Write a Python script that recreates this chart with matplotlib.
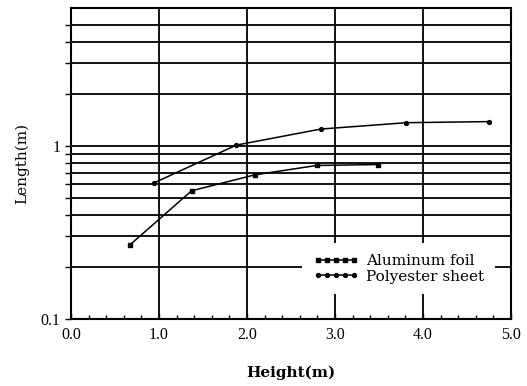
import matplotlib
matplotlib.use("Agg")
import matplotlib.pyplot as plt
from matplotlib.ticker import FixedLocator, NullFormatter, MultipleLocator

plt.rcParams['font.family'] = ['Liberation Serif', 'DejaVu Serif']

al_x = [0.67, 1.37, 2.09, 2.79, 3.49]
al_y = [0.268, 0.55, 0.68, 0.77, 0.78]
po_x = [0.94, 1.88, 2.84, 3.81, 4.75]
po_y = [0.61, 1.01, 1.25, 1.36, 1.38]

x_ticks = [0.0, 1.0, 2.0, 3.0, 4.0, 5.0]
x_labels = ["0.0", "1.0", "2.0", "3.0", "4.0", "5.0"]
y_grid = [0.2, 0.3, 0.4, 0.5, 0.6, 0.7, 0.8, 0.9, 1, 2, 3, 4, 5]

fig = plt.figure(figsize=(5.27, 3.86), dpi=100)
ax = fig.add_axes([71/527, 1-319/386, 440/527, 311/386])

ax.set_yscale('log')
ax.set_xlim(0, 5)
ax.set_ylim(0.1, 6.25)

ax.plot(al_x, al_y, color='black', lw=1.1, marker='s', ms=3.5, label='Aluminum foil', zorder=3)
ax.plot(po_x, po_y, color='black', lw=1.1, marker='o', ms=2.8, label='Polyester sheet', zorder=3)

for v in y_grid:
    ax.axhline(v, color='black', lw=1.3, zorder=1)
for v in x_ticks[1:-1]:
    ax.axvline(v, color='black', lw=1.3, zorder=1)

ax.set_xticks(x_ticks)
ax.set_xticklabels(x_labels)
ax.xaxis.set_minor_locator(MultipleLocator(0.2))
ax.yaxis.set_major_locator(FixedLocator([0.1, 1]))
ax.set_yticklabels(["0.1", "1"])
ax.yaxis.set_minor_locator(FixedLocator(y_grid))
ax.yaxis.set_minor_formatter(NullFormatter())
ax.tick_params(axis='x', which='both', direction='in', length=4, width=1, labelsize=11.5, pad=6)
ax.tick_params(axis='x', which='minor', length=3)
ax.tick_params(axis='y', which='both', direction='out', length=4, width=1, labelsize=11.5)
for s in ax.spines.values():
    s.set_linewidth(1.5)

ax.set_xlabel('Height(m)', fontsize=11, fontweight='bold', family='DejaVu Serif', labelpad=16)
ax.set_ylabel('Length(m)', fontsize=11, family='DejaVu Serif', labelpad=8)

leg = ax.legend(loc='center', bbox_to_anchor=(0.745, 0.161), numpoints=5, frameon=True,
                fancybox=False, edgecolor='none', facecolor='white', framealpha=1,
                prop={'family': 'DejaVu Serif', 'size': 11}, handlelength=3.0,
                handletextpad=0.5, labelspacing=0.1, borderpad=0.7)
leg.set_zorder(5)

fig.savefig('out.png', dpi=100)
